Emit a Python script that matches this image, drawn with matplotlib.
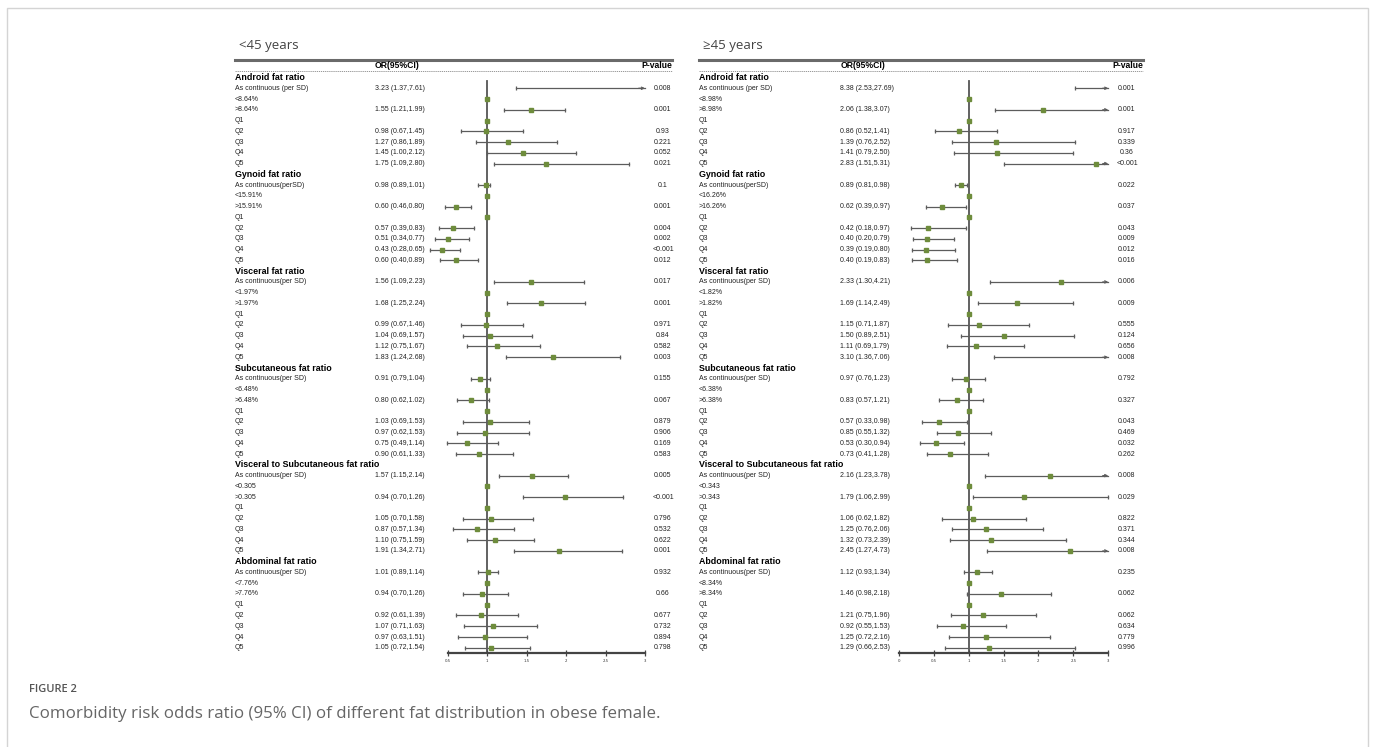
import numpy as np
import matplotlib
matplotlib.use("Agg")
import matplotlib.pyplot as plt
from matplotlib.patches import Rectangle

W, H = 1375, 747

GROUPS = [
    "Android fat ratio",
    "Gynoid fat ratio",
    "Visceral fat ratio",
    "Subcutaneous fat ratio",
    "Visceral to Subcutaneous fat ratio",
    "Abdominal fat ratio",
]
CONT_LABELS = [
    "As continuous (per SD)",
    "As continuous(perSD)",
    "As continuous(per SD)",
    "As continuous(per SD)",
    "As continuous(per SD)",
    "As continuous(per SD)",
]
QUINTILES = ["Q1", "Q2", "Q3", "Q4", "Q5"]

# ---- <45 years ----
LEFT_CUTS = ["8.64%", "15.91%", "1.97%", "6.48%", "0.305", "7.76%"]
LEFT_OR_TEXT = [
    "3.23 (1.37,7.61)", "", "1.55 (1.21,1.99)", "", "0.98 (0.67,1.45)", "1.27 (0.86,1.89)", "1.45 (1.00,2.12)", "1.75 (1.09,2.80)",
    "0.98 (0.89,1.01)", "", "0.60 (0.46,0.80)", "", "0.57 (0.39,0.83)", "0.51 (0.34,0.77)", "0.43 (0.28,0.65)", "0.60 (0.40,0.89)",
    "1.56 (1.09,2.23)", "", "1.68 (1.25,2.24)", "", "0.99 (0.67,1.46)", "1.04 (0.69,1.57)", "1.12 (0.75,1.67)", "1.83 (1.24,2.68)",
    "0.91 (0.79,1.04)", "", "0.80 (0.62,1.02)", "", "1.03 (0.69,1.53)", "0.97 (0.62,1.53)", "0.75 (0.49,1.14)", "0.90 (0.61,1.33)",
    "1.57 (1.15,2.14)", "", "0.94 (0.70,1.26)", "", "1.05 (0.70,1.58)", "0.87 (0.57,1.34)", "1.10 (0.75,1.59)", "1.91 (1.34,2.71)",
    "1.01 (0.89,1.14)", "", "0.94 (0.70,1.26)", "", "0.92 (0.61,1.39)", "1.07 (0.71,1.63)", "0.97 (0.63,1.51)", "1.05 (0.72,1.54)",
]
LEFT_P = [
    "0.008", "", "0.001", "", "0.93", "0.221", "0.052", "0.021",
    "0.1", "", "0.001", "", "0.004", "0.002", "<0.001", "0.012",
    "0.017", "", "0.001", "", "0.971", "0.84", "0.582", "0.003",
    "0.155", "", "0.067", "", "0.879", "0.906", "0.169", "0.583",
    "0.005", "", "<0.001", "", "0.796", "0.532", "0.622", "0.001",
    "0.932", "", "0.66", "", "0.677", "0.732", "0.894", "0.798",
]
# plotted estimates as drawn (reference rows: est 1, no interval)
nan = np.nan
LEFT_EST = [3.23, 1, 1.55, 1, 0.98, 1.27, 1.45, 1.75,
            0.98, 1, 0.60, 1, 0.57, 0.51, 0.43, 0.60,
            1.56, 1, 1.68, 1, 0.99, 1.04, 1.12, 1.83,
            0.91, 1, 0.80, 1, 1.03, 0.97, 0.75, 0.90,
            1.57, 1, 1.99, 1, 1.05, 0.87, 1.10, 1.91,
            1.01, 1, 0.94, 1, 0.92, 1.07, 0.97, 1.05]
LEFT_LO = [1.37, nan, 1.21, nan, 0.67, 0.86, 1.00, 1.09,
           0.89, nan, 0.46, nan, 0.39, 0.34, 0.28, 0.40,
           1.09, nan, 1.25, nan, 0.67, 0.69, 0.75, 1.24,
           0.79, nan, 0.62, nan, 0.69, 0.62, 0.49, 0.61,
           1.15, nan, 1.45, nan, 0.70, 0.57, 0.75, 1.34,
           0.89, nan, 0.70, nan, 0.61, 0.71, 0.63, 0.72]
LEFT_HI = [7.61, nan, 1.99, nan, 1.45, 1.89, 2.12, 2.80,
           1.04, nan, 0.80, nan, 0.83, 0.77, 0.65, 0.89,
           2.23, nan, 2.24, nan, 1.46, 1.57, 1.67, 2.68,
           1.04, nan, 1.02, nan, 1.53, 1.53, 1.14, 1.33,
           2.02, nan, 2.72, nan, 1.58, 1.34, 1.59, 2.71,
           1.14, nan, 1.26, nan, 1.39, 1.63, 1.51, 1.54]
LEFT_TICKS = [0.5, 1, 1.5, 2, 2.5, 3]
LEFT_TICK_LABELS = ["0.5", "1", "1.5", "2", "2.5", "3"]

# ---- >=45 years ----
RIGHT_CUTS = ["8.98%", "16.26%", "1.82%", "6.38%", "0.343", "8.34%"]
RIGHT_OR_TEXT = [
    "8.38 (2.53,27.69)", "", "2.06 (1.38,3.07)", "", "0.86 (0.52,1.41)", "1.39 (0.76,2.52)", "1.41 (0.79,2.50)", "2.83 (1.51,5.31)",
    "0.89 (0.81,0.98)", "", "0.62 (0.39,0.97)", "", "0.42 (0.18,0.97)", "0.40 (0.20,0.79)", "0.39 (0.19,0.80)", "0.40 (0.19,0.83)",
    "2.33 (1.30,4.21)", "", "1.69 (1.14,2.49)", "", "1.15 (0.71,1.87)", "1.50 (0.89,2.51)", "1.11 (0.69,1.79)", "3.10 (1.36,7.06)",
    "0.97 (0.76,1.23)", "", "0.83 (0.57,1.21)", "", "0.57 (0.33,0.98)", "0.85 (0.55,1.32)", "0.53 (0.30,0.94)", "0.73 (0.41,1.28)",
    "2.16 (1.23,3.78)", "", "1.79 (1.06,2.99)", "", "1.06 (0.62,1.82)", "1.25 (0.76,2.06)", "1.32 (0.73,2.39)", "2.45 (1.27,4.73)",
    "1.12 (0.93,1.34)", "", "1.46 (0.98,2.18)", "", "1.21 (0.75,1.96)", "0.92 (0.55,1.53)", "1.25 (0.72,2.16)", "1.29 (0.66,2.53)",
]
RIGHT_P = [
    "0.001", "", "0.001", "", "0.917", "0.339", "0.36", "<0.001",
    "0.022", "", "0.037", "", "0.043", "0.009", "0.012", "0.016",
    "0.006", "", "0.009", "", "0.555", "0.124", "0.656", "0.008",
    "0.792", "", "0.327", "", "0.043", "0.469", "0.032", "0.262",
    "0.008", "", "0.029", "", "0.822", "0.371", "0.344", "0.008",
    "0.235", "", "0.062", "", "0.062", "0.634", "0.779", "0.996",
]
RIGHT_EST = [8.38, 1, 2.06, 1, 0.86, 1.39, 1.41, 2.83,
             0.89, 1, 0.62, 1, 0.42, 0.40, 0.39, 0.40,
             2.33, 1, 1.69, 1, 1.15, 1.50, 1.11, 3.10,
             0.97, 1, 0.83, 1, 0.57, 0.85, 0.53, 0.73,
             2.16, 1, 1.79, 1, 1.06, 1.25, 1.32, 2.45,
             1.12, 1, 1.46, 1, 1.21, 0.92, 1.25, 1.29]
RIGHT_LO = [2.53, nan, 1.38, nan, 0.52, 0.76, 0.79, 1.51,
            0.81, nan, 0.39, nan, 0.18, 0.20, 0.19, 0.19,
            1.30, nan, 1.14, nan, 0.71, 0.89, 0.69, 1.36,
            0.76, nan, 0.57, nan, 0.33, 0.55, 0.30, 0.41,
            1.23, nan, 1.06, nan, 0.62, 0.76, 0.73, 1.27,
            0.93, nan, 0.98, nan, 0.75, 0.55, 0.72, 0.66]
RIGHT_HI = [27.69, nan, 3.07, nan, 1.41, 2.52, 2.50, 5.31,
            0.98, nan, 0.97, nan, 0.97, 0.79, 0.80, 0.83,
            4.21, nan, 2.49, nan, 1.87, 2.51, 1.79, 7.06,
            1.23, nan, 1.21, nan, 0.98, 1.32, 0.94, 1.28,
            3.78, nan, 2.99, nan, 1.82, 2.06, 2.39, 4.73,
            1.34, nan, 2.18, nan, 1.96, 1.53, 2.16, 2.53]
RIGHT_TICKS = [0, 0.5, 1, 1.5, 2, 2.5, 3]
RIGHT_TICK_LABELS = ["0", "0.5", "1", "1.5", "2", "2.5", "3"]

TABLE_FONT = "Liberation Sans"
TITLE_FONT = ["Open Sans", "DejaVu Sans"]
GREEN = "#6e8c3c"
LINE = "#5c5c5c"

ROW0, ROW_H = 77.5, 10.76
AX_TOP, AX_BOTTOM = 72, 653


def fx(px):
    return px / W


def fy(py):
    return 1 - py / H


def draw_panel(fig, title, cuts, or_text, pvals, est, lo, hi, ticks, tick_labels, geo):
    x_lab, x_or, ax_l, ax_r, x_p, x_end = geo
    fig.text(fx(x_lab + 4), fy(46), title, family=TITLE_FONT, fontsize=9.5, color="#444444", va="center")
    fig.add_artist(plt.Line2D([fx(x_lab), fx(x_end)], [fy(59.5), fy(59.5)], color="#6a6a6a", lw=2.2))
    fig.text(fx(x_or), fy(66), "OR(95%CI)", family=TABLE_FONT, weight="bold", fontsize=6.2, va="center")
    fig.text(fx(x_end), fy(66), "P-value", family=TABLE_FONT, weight="bold", fontsize=6.2, va="center", ha="right")
    fig.add_artist(plt.Line2D([fx(x_lab), fx(x_end)], [fy(71), fy(71)], color="#888888", lw=0.6, ls=(0, (1.5, 1))))

    ax = fig.add_axes([fx(ax_l), fy(AX_BOTTOM), fx(ax_r) - fx(ax_l), (AX_BOTTOM - AX_TOP) / H])
    ax.set_xlim(ticks[0], ticks[-1])
    ax.set_ylim(AX_BOTTOM, AX_TOP)
    ax.patch.set_alpha(0)
    for s in ("top", "left", "right"):
        ax.spines[s].set_visible(False)
    ax.spines["bottom"].set_color("#444444")
    ax.spines["bottom"].set_linewidth(1.6)
    ax.set_yticks([])
    ax.set_xticks(ticks)
    ax.set_xticklabels(tick_labels)
    ax.tick_params(axis="x", direction="inout", length=5, width=0.9, color="#444444",
                   labelsize=2.8, pad=2, labelcolor="#333333")
    xmax = ticks[-1]
    ax.plot([1, 1], [81, AX_BOTTOM], color="#555555", lw=1.3, zorder=1)

    for g, name in enumerate(GROUPS):
        y_head = ROW0 + 9 * g * ROW_H
        fig.text(fx(x_lab), fy(y_head), name, family=TABLE_FONT, weight="bold", fontsize=6.4, va="center")
        labels = [CONT_LABELS[g], "<" + cuts[g], ">" + cuts[g]] + QUINTILES
        for k, lab in enumerate(labels):
            i = g * 8 + k
            y = ROW0 + (9 * g + 1 + k) * ROW_H
            fig.text(fx(x_lab), fy(y), lab, family=TABLE_FONT, fontsize=5, va="center", color="#222222")
            if or_text[i]:
                fig.text(fx(x_or), fy(y), or_text[i], family=TABLE_FONT, fontsize=5, va="center", color="#222222")
            if pvals[i]:
                fig.text(fx(x_p), fy(y), pvals[i], family=TABLE_FONT, fontsize=5, va="center", ha="center", color="#222222")
            if not np.isnan(lo[i]):
                right = min(hi[i], xmax)
                ax.plot([lo[i], right], [y, y], color=LINE, lw=0.9, clip_on=False, zorder=2)
                ax.plot([lo[i]], [y], marker="|", ms=3.2, mew=0.9, color=LINE, clip_on=False, zorder=2)
                if hi[i] > xmax:
                    ax.annotate("", xy=(xmax, y), xytext=(xmax - 0.08, y),
                                arrowprops=dict(arrowstyle="->", color=LINE, lw=0.9,
                                                mutation_scale=4, shrinkA=0, shrinkB=0),
                                annotation_clip=False)
                else:
                    ax.plot([hi[i]], [y], marker="|", ms=3.2, mew=0.9, color=LINE, clip_on=False, zorder=2)
            if est[i] <= xmax:
                ax.plot([est[i]], [y], marker="s", ms=3.5, color=GREEN, mec=GREEN, ls="none",
                        clip_on=False, zorder=3)
    return ax


fig = plt.figure(figsize=(W / 100, H / 100), dpi=100)
fig.patch.set_facecolor("white")
fig.add_artist(Rectangle((fx(7), fy(760)), fx(1368) - fx(7), fy(8) - fy(760),
                         fill=False, ec="#d4d4d4", lw=1.0, transform=fig.transFigure))

draw_panel(fig, "<45 years", LEFT_CUTS, LEFT_OR_TEXT, LEFT_P, LEFT_EST, LEFT_LO, LEFT_HI,
           LEFT_TICKS, LEFT_TICK_LABELS, (235, 375, 447.7, 645, 663, 672))
draw_panel(fig, "\u226545 years", RIGHT_CUTS, RIGHT_OR_TEXT, RIGHT_P, RIGHT_EST, RIGHT_LO, RIGHT_HI,
           RIGHT_TICKS, RIGHT_TICK_LABELS, (699, 840.5, 898.7, 1108.3, 1127, 1143))

fig.text(fx(29), fy(690), "FIGURE 2", family=TITLE_FONT, weight="semibold", fontsize=8, color="#555555", va="center")
fig.text(fx(29), fy(714), "Comorbidity risk odds ratio (95% CI) of different fat distribution in obese female.",
         family=TITLE_FONT, fontsize=12.2, color="#666666", va="center")

fig.savefig("out.png", dpi=100, facecolor="white")
